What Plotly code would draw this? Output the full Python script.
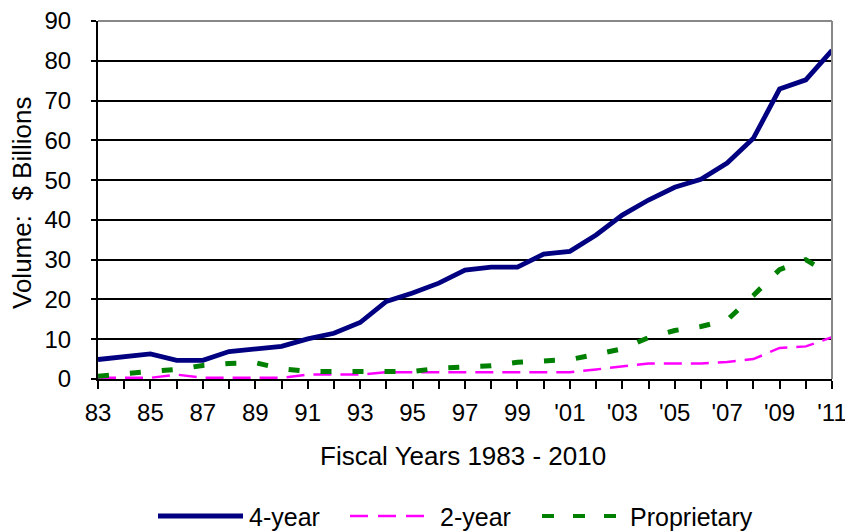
import plotly.graph_objects as go

# Fiscal years 1983-2011
years = list(range(1983, 2012))

# Loan volume by sector, $ billions
four_year = [4.9, 5.6, 6.3, 4.7, 4.7, 6.9, 7.5, 8.2, 10.1, 11.5, 14.2, 19.5, 21.6, 24.1,
             27.4, 28.1, 28.1, 31.4, 32.1, 36.2, 41.2, 45.0, 48.2, 50.2, 54.3, 60.5,
             72.9, 75.2, 82.6]
two_year = [0.3, 0.3, 0.3, 1.1, 0.3, 0.3, 0.3, 0.3, 1.1, 1.1, 1.1, 1.7, 1.7, 1.7,
            1.7, 1.7, 1.7, 1.7, 1.7, 2.4, 3.2, 3.9, 3.9, 3.9, 4.3, 5.0,
            7.8, 8.2, 10.5]
proprietary = [0.7, 1.4, 1.9, 2.4, 3.4, 3.9, 4.1, 2.6, 1.9, 1.9, 1.9, 1.9, 1.9, 2.7,
               3.0, 3.3, 4.2, 4.7, 4.9, 6.2, 7.6, 10.4, 12.2, 13.2, 14.8, 21.0,
               27.5, 30.0, 26.0]

tick_years = list(range(1983, 2012, 2))
tick_text = ["83", "85", "87", "89", "91", "93", "95", "97", "99",
             "'01", "'03", "'05", "'07", "'09", "'11"]

x_title = "Fiscal Years 1983 - 2010"
y_title = "Volume:  $ Billions"

FONT = "Liberation Sans, Arial, sans-serif"
W, H = 845, 531
ML, MR, MT, MB = 98, 13, 21, 152
PW, PH = W - ML - MR, H - MT - MB


def px_x(px):
    """pixel column -> paper x fraction"""
    return (px - ML) / PW


def px_y(py):
    """pixel row -> paper y fraction"""
    return (H - MB - py) / PH


series = [
    ("4-year", four_year, dict(color="#000080", width=4.8)),
    ("2-year", two_year, dict(color="#FF00FF", width=2.5, dash="18px,9px")),
    ("Proprietary", proprietary, dict(color="#008000", width=5, dash="11px,21px")),
]

fig = go.Figure()
for name, vals, line in series:
    fig.add_trace(go.Scatter(x=years, y=vals, mode="lines", name=name, line=line,
                             showlegend=False))

# gray frame on the top and right of the plot area
fig.add_shape(type="line", xref="x domain", yref="y domain", x0=0, x1=1, y0=1, y1=1,
              line=dict(color="#888888", width=2))
fig.add_shape(type="line", xref="x domain", yref="y domain", x0=1, x1=1, y0=0, y1=1,
              line=dict(color="#888888", width=2))

# legend row below the axis title: long line samples followed by the series name
legend_items = [
    (158, 243, 247, dict(color="#000080", width=4.8)),
    (350, 426, 438, dict(color="#FF00FF", width=2.5, dash="18px,10px")),
    (542, 616, 628, dict(color="#008000", width=4, dash="12px,19px")),
]
legend_y = 516
for (name, _, _), (x0, x1, tx, ln) in zip(series, legend_items):
    fig.add_shape(type="line", xref="paper", yref="paper",
                  x0=px_x(x0), x1=px_x(x1), y0=px_y(legend_y), y1=px_y(legend_y),
                  line=ln)
    fig.add_annotation(text=name, xref="paper", yref="paper", x=px_x(tx),
                       y=px_y(legend_y + 1), xanchor="left", yanchor="middle",
                       showarrow=False, font=dict(size=25))

# axis titles
fig.add_annotation(text=x_title, xref="paper", yref="paper", x=px_x(463),
                   y=px_y(456), xanchor="center", yanchor="middle",
                   showarrow=False, font=dict(size=26))
fig.add_annotation(text=y_title, xref="paper", yref="paper", x=px_x(22),
                   y=px_y(203), xanchor="center", yanchor="middle",
                   textangle=-90, showarrow=False, font=dict(size=26))

fig.update_layout(
    width=W, height=H,
    margin=dict(l=ML, r=MR, t=MT, b=MB),
    paper_bgcolor="white", plot_bgcolor="white",
    font=dict(family=FONT, size=24, color="black"),
    showlegend=False,
    xaxis=dict(range=[1983, 2011], tickmode="array", tickvals=tick_years,
               ticktext=tick_text, ticks="outside", ticklen=8, tickwidth=2,
               tickcolor="black", showline=True, linecolor="black", linewidth=2,
               showgrid=False, zeroline=False, ticklabelstandoff=3,
               ticklabeloverflow="allow", automargin=False,
               tickfont=dict(size=24),
               minor=dict(ticks="outside", dtick=1, tick0=1983, ticklen=8,
                          tickwidth=2, tickcolor="black", showgrid=False)),
    yaxis=dict(range=[0, 90], dtick=10, ticks="outside", ticklen=5, tickwidth=2,
               tickcolor="black", showline=True, linecolor="black", linewidth=2,
               showgrid=True, gridcolor="black", gridwidth=1.5, zeroline=False,
               ticklabelstandoff=15, automargin=False, tickfont=dict(size=24)),
)

fig.write_html("out.html")
